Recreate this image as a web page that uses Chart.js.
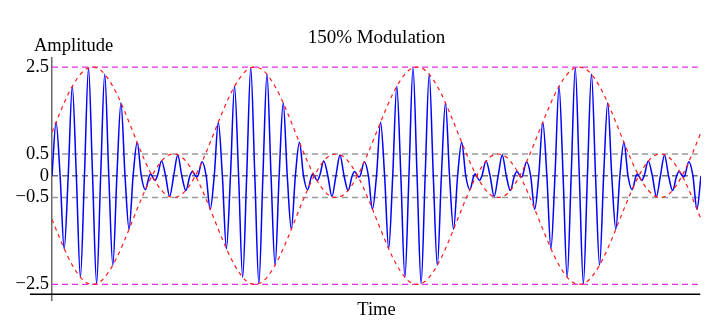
<!DOCTYPE html>
<html><head><meta charset="utf-8">
<script src="https://cdn.jsdelivr.net/npm/chart.js@4.4.1/dist/chart.umd.min.js"></script>
<style>html,body{margin:0;padding:0;background:#fff;}canvas{display:block;}</style>
</head><body>
<canvas id="c" width="723" height="327"></canvas>
<script>
// Time in carrier cycles; amplitude (extrema and zero crossings)
const sigTime = [
 0,0.25,0.5,0.75,1,1.25,1.5,1.75,2,2.25,2.5,2.75,3,3.25,3.5,3.75,4,4.25,4.5,4.75,5,5.25,5.5,5.75,6,6.08,6.16,6.35,6.5,6.75,7,7.25,7.5,7.75,8,8.25,8.5,8.65,8.84,8.92,9,9.25,9.5,9.75,
 10,10.25,10.5,10.75,11,11.25,11.5,11.75,12,12.25,12.5,12.75,13,13.25,13.5,13.75,14,14.25,14.5,14.75,15,15.25,15.5,15.75,16,16.08,16.16,16.35,16.5,16.75,17,17.25,17.5,17.75,18,18.25,18.5,18.65,18.84,18.92,19,19.25,19.5,19.75,
 20,20.25,20.5,20.75,21,21.25,21.5,21.75,22,22.25,22.5,22.75,23,23.25,23.5,23.75,24,24.25,24.5,24.75,25,25.25,25.5,25.75,26,26.08,26.16,26.35,26.5,26.75,27,27.25,27.5,27.75,28,28.25,28.5,28.65,28.84,28.92,29,29.25,29.5,29.75,
 30,30.25,30.5,30.75,31,31.25,31.5,31.75,32,32.25,32.5,32.75,33,33.25,33.5,33.75,34,34.25,34.5,34.75,35,35.25,35.5,35.75,36,36.08,36.16,36.35,36.5,36.75,37,37.25,37.5,37.75,38,38.25,38.5,38.65,38.84,38.92,39,39.25,39.5,39.75,
 40];
const sigAmp = [
 0,1.23,0,-1.68,0,2.06,0,-2.34,0,2.48,0,-2.48,0,2.34,0,-2.06,0,1.68,0,-1.23,0,0.77,0,-0.32,0,0.04,0,-0.11,0,0.34,0,-0.48,0,0.48,0,-0.34,0,0.1,0,-0.03,0,0.32,0,-0.77,
 0,1.23,0,-1.68,0,2.06,0,-2.34,0,2.48,0,-2.48,0,2.34,0,-2.06,0,1.68,0,-1.23,0,0.77,0,-0.32,0,0.04,0,-0.11,0,0.34,0,-0.48,0,0.48,0,-0.34,0,0.1,0,-0.03,0,0.32,0,-0.77,
 0,1.23,0,-1.68,0,2.06,0,-2.34,0,2.48,0,-2.48,0,2.34,0,-2.06,0,1.68,0,-1.23,0,0.77,0,-0.32,0,0.04,0,-0.11,0,0.34,0,-0.48,0,0.48,0,-0.34,0,0.1,0,-0.03,0,0.32,0,-0.77,
 0,1.23,0,-1.68,0,2.06,0,-2.34,0,2.48,0,-2.48,0,2.34,0,-2.06,0,1.68,0,-1.23,0,0.77,0,-0.32,0,0.04,0,-0.11,0,0.34,0,-0.48,0,0.48,0,-0.34,0,0.1,0,-0.03,0,0.32,0,-0.77,
 0];
const envTime = [
 0,0.5,1,1.5,2,2.5,3,3.5,4,4.5,5,5.5,6,6.5,7,7.5,8,8.5,9,9.5,
 10,10.5,11,11.5,12,12.5,13,13.5,14,14.5,15,15.5,16,16.5,17,17.5,18,18.5,19,19.5,
 20,20.5,21,21.5,22,22.5,23,23.5,24,24.5,25,25.5,26,26.5,27,27.5,28,28.5,29,29.5,
 30,30.5,31,31.5,32,32.5,33,33.5,34,34.5,35,35.5,36,36.5,37,37.5,38,38.5,39,39.5,
 40];
const envUpper = [
 1.00,1.46,1.88,2.21,2.43,2.50,2.43,2.21,1.88,1.46,1.00,0.54,0.12,-0.21,-0.43,-0.50,-0.43,-0.21,0.12,0.54,
 1.00,1.46,1.88,2.21,2.43,2.50,2.43,2.21,1.88,1.46,1.00,0.54,0.12,-0.21,-0.43,-0.50,-0.43,-0.21,0.12,0.54,
 1.00,1.46,1.88,2.21,2.43,2.50,2.43,2.21,1.88,1.46,1.00,0.54,0.12,-0.21,-0.43,-0.50,-0.43,-0.21,0.12,0.54,
 1.00,1.46,1.88,2.21,2.43,2.50,2.43,2.21,1.88,1.46,1.00,0.54,0.12,-0.21,-0.43,-0.50,-0.43,-0.21,0.12,0.54,
 1.00];
const envLower = [
 -1.00,-1.46,-1.88,-2.21,-2.43,-2.50,-2.43,-2.21,-1.88,-1.46,-1.00,-0.54,-0.12,0.21,0.43,0.50,0.43,0.21,-0.12,-0.54,
 -1.00,-1.46,-1.88,-2.21,-2.43,-2.50,-2.43,-2.21,-1.88,-1.46,-1.00,-0.54,-0.12,0.21,0.43,0.50,0.43,0.21,-0.12,-0.54,
 -1.00,-1.46,-1.88,-2.21,-2.43,-2.50,-2.43,-2.21,-1.88,-1.46,-1.00,-0.54,-0.12,0.21,0.43,0.50,0.43,0.21,-0.12,-0.54,
 -1.00,-1.46,-1.88,-2.21,-2.43,-2.50,-2.43,-2.21,-1.88,-1.46,-1.00,-0.54,-0.12,0.21,0.43,0.50,0.43,0.21,-0.12,-0.54,
 -1.00];
const refLevels = [2.5, 0.5, 0, -0.5, -2.5];
const refSpan = [0, 39.8];
const yTicks = [2.5, 0.5, 0, -0.5, -2.5];
const yTickLabels = ['2.5', '0.5', '0', '\u22120.5', '\u22122.5'];
const xRange = [0, 40];
const yRange = [-2.86, 2.71];
const xAxisLevel = -2.73;
const xAxisSpan = [-1.36, 39.95];
const titleText = '150% Modulation';
const yTitleText = 'Amplitude';
const xTitleText = 'Time';

const FONT = '"Liberation Serif", "Times New Roman", serif';
const FS = 18.5;
const TITLE_FS = 19;

const refStyle = {
  '2.5': {c: '#e62ee6', w: 1.2}, '-2.5': {c: '#e62ee6', w: 1.2},
  '0.5': {c: '#9a9a9a', w: 1.5}, '-0.5': {c: '#9a9a9a', w: 1.5},
  '0': {c: '#707070', w: 1.5}
};

const pts = (xs, ys) => xs.map((t, i) => ({x: t, y: ys[i]}));

const datasets = [];
datasets.push({data: pts(envTime, envUpper), borderColor: '#ff1a1a', borderWidth: 1.2, borderDash: [4, 4], cubicInterpolationMode: 'monotone', order: 0});
datasets.push({data: pts(envTime, envLower), borderColor: '#ff1a1a', borderWidth: 1.2, borderDash: [4, 4], cubicInterpolationMode: 'monotone', order: 0});
datasets.push({data: pts(sigTime, sigAmp), borderColor: '#0000ff', borderWidth: 1.5, cubicInterpolationMode: 'monotone', order: 1});
refLevels.forEach(v => {
  const s = refStyle[String(v)];
  datasets.push({data: [{x: refSpan[0], y: v}, {x: refSpan[1], y: v}], borderColor: s.c, borderWidth: s.w, borderDash: [6, 4], order: 2});
});

const decor = {
  id: 'decor',
  afterDatasetsDraw(chart) {
    const {ctx, scales: {x, y}} = chart;
    ctx.save();
    ctx.strokeStyle = '#000';
    ctx.lineWidth = 1.5;
    const yy = y.getPixelForValue(xAxisLevel);
    ctx.beginPath();
    ctx.moveTo(x.getPixelForValue(xAxisSpan[0]), yy);
    ctx.lineTo(x.getPixelForValue(xAxisSpan[1]), yy);
    ctx.stroke();
    ctx.restore();
  },
  afterDraw(chart) {
    const {ctx, chartArea} = chart;
    ctx.save();
    ctx.fillStyle = '#000';
    ctx.textBaseline = 'alphabetic';
    const cx = (chartArea.left + chartArea.right) / 2;
    ctx.textAlign = 'center';
    ctx.font = TITLE_FS + 'px ' + FONT;
    ctx.fillText(titleText, cx, 43);
    ctx.font = FS + 'px ' + FONT;
    ctx.fillText(xTitleText, cx, 315);
    ctx.textAlign = 'left';
    ctx.fillText(yTitleText, 34, 51);
    ctx.restore();
  }
};

new Chart(document.getElementById('c'), {
  type: 'line',
  data: {datasets},
  options: {
    responsive: false,
    animation: false,
    events: [],
    layout: {padding: {top: 58, right: 22, bottom: 27, left: 0}},
    elements: {point: {radius: 0}, line: {fill: false}},
    plugins: {legend: {display: false}, title: {display: false}, tooltip: {enabled: false}},
    scales: {
      x: {type: 'linear', min: xRange[0], max: xRange[1], display: false},
      y: {
        type: 'linear', min: yRange[0], max: yRange[1],
        afterFit: s => { s.width = 52; },
        afterBuildTicks: s => { s.ticks = yTicks.map(v => ({value: v})); },
        ticks: {
          autoSkip: false, padding: 3, color: '#000',
          font: {family: FONT, size: FS},
          callback: (v) => { const i = yTicks.indexOf(v); return i >= 0 ? yTickLabels[i] : ''; }
        },
        grid: {display: false, drawTicks: false},
        border: {display: true, color: '#6a6a6a', width: 1.5}
      }
    }
  },
  plugins: [decor]
});
</script>
</body></html>
